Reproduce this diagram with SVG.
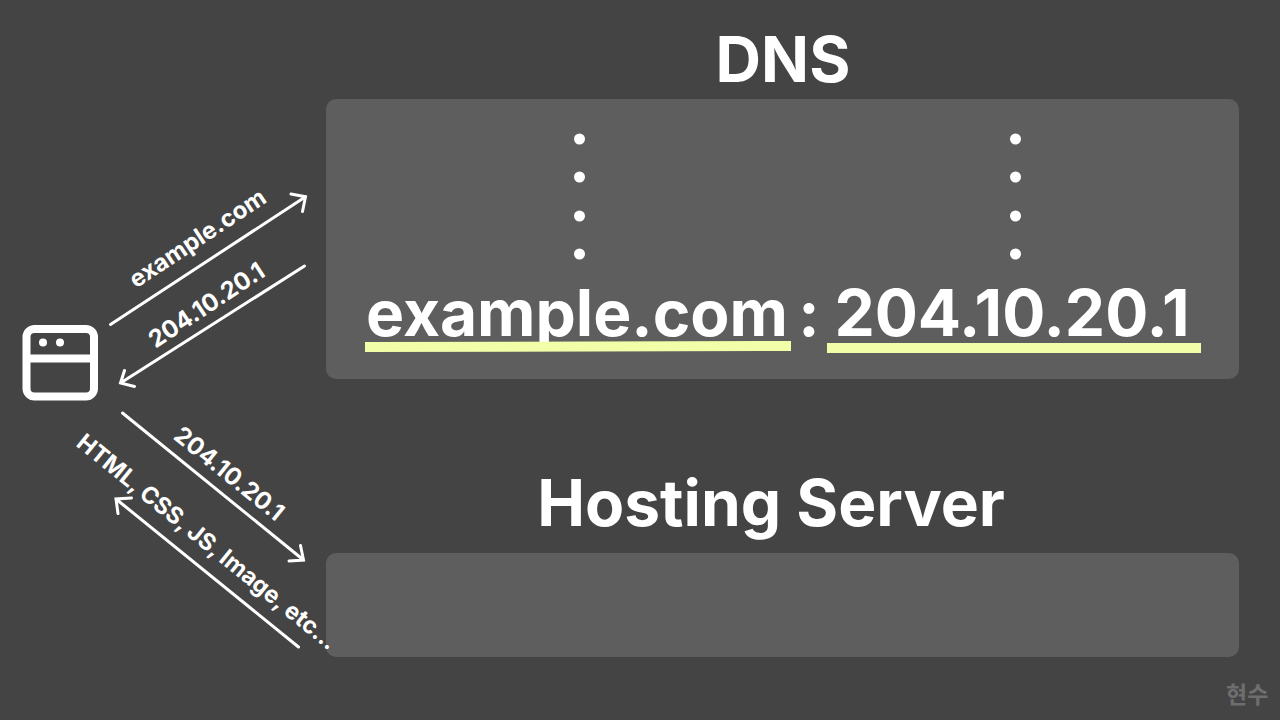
<svg xmlns="http://www.w3.org/2000/svg" width="1280" height="720" viewBox="0 0 1280 720">
<style>
.t{font-family:Inter,"Noto Sans CJK KR",sans-serif;fill:#fff;font-weight:700}
.big{font-size:64px;text-anchor:middle}
.title{font-size:64px;text-anchor:middle}
.lab{font-size:24px;text-anchor:middle}
.box{fill:#5e5e5e}
.dot{fill:#fff}
.hl{fill:#f2ffa8}
.c{fill:none;stroke:#fff;stroke-width:3;stroke-linecap:round;stroke-linejoin:miter}
</style>
<rect width="1280" height="720" fill="#444444"/>
<g id="dns">
<text class="t title" x="783" y="82" style="font-size:63px">DNS</text>
<rect class="box" x="326" y="99" width="913" height="280" rx="10"/>
<g id="dots-left"><circle class="dot" cx="579.500" cy="139" r="5.500"/><circle class="dot" cx="579.500" cy="177" r="5.500"/><circle class="dot" cx="579.500" cy="216" r="5.500"/><circle class="dot" cx="579.500" cy="254" r="5.500"/></g>
<g id="dots-right"><circle class="dot" cx="1015.500" cy="139" r="5.500"/><circle class="dot" cx="1015.500" cy="177" r="5.500"/><circle class="dot" cx="1015.500" cy="216" r="5.500"/><circle class="dot" cx="1015.500" cy="254" r="5.500"/></g>
<text class="t big" x="577" y="336">example.com</text>
<text class="t big" x="809" y="336">:</text>
<text class="t big" x="1012" y="336">204.10.20.1</text>
<polygon class="hl" points="365,342 791,341 791,351 365,352"/>
<rect class="hl" x="827" y="343" width="374" height="10"/>
</g>
<g id="hosting">
<text class="t title" x="771" y="526">Hosting Server</text>
<rect class="box" x="326" y="553" width="913" height="104" rx="10"/>
</g>
<g id="browser" fill="none" stroke="#fff" stroke-width="8">
<rect x="26.5" y="329" width="67.500" height="67.500" rx="8"/>
<path d="M26.500 358.500H94"/>
<circle cx="43" cy="342.500" r="4" fill="#fff" stroke="none"/>
<circle cx="60" cy="342.500" r="4" fill="#fff" stroke="none"/>
</g>
<g id="connectors">
<path class="c" d="M110.500 324.500L305.500 196.700M291 194L305.500 196.700L302.500 211.500"/>
<path class="c" d="M304.500 266L120.500 383M124.500 370.500L120.500 383L134.500 386.500"/>
<path class="c" d="M122.500 413L303.500 560M300.500 545.500L303.500 560L289 561"/>
<path class="c" d="M298.500 647L116 499M131.500 498L116 499L118 513.500"/>
</g>
<g id="labels">
<text class="t lab" transform="translate(202 245) rotate(-33.500)">example.com</text>
<text class="t lab" transform="translate(211 312) rotate(-33.500)">204.10.20.1</text>
<text class="t lab" transform="translate(224 480) rotate(39)">204.10.20.1</text>
<text class="t lab" transform="translate(202 548) rotate(39)" style="font-size:23.500px">HTML, CSS, JS, Image, etc...</text>
</g>
<text id="watermark" x="1226" y="703" font-family="'Noto Sans CJK KR',sans-serif" font-weight="700" font-size="23" fill="#6e6e6e">현수</text>
</svg>
